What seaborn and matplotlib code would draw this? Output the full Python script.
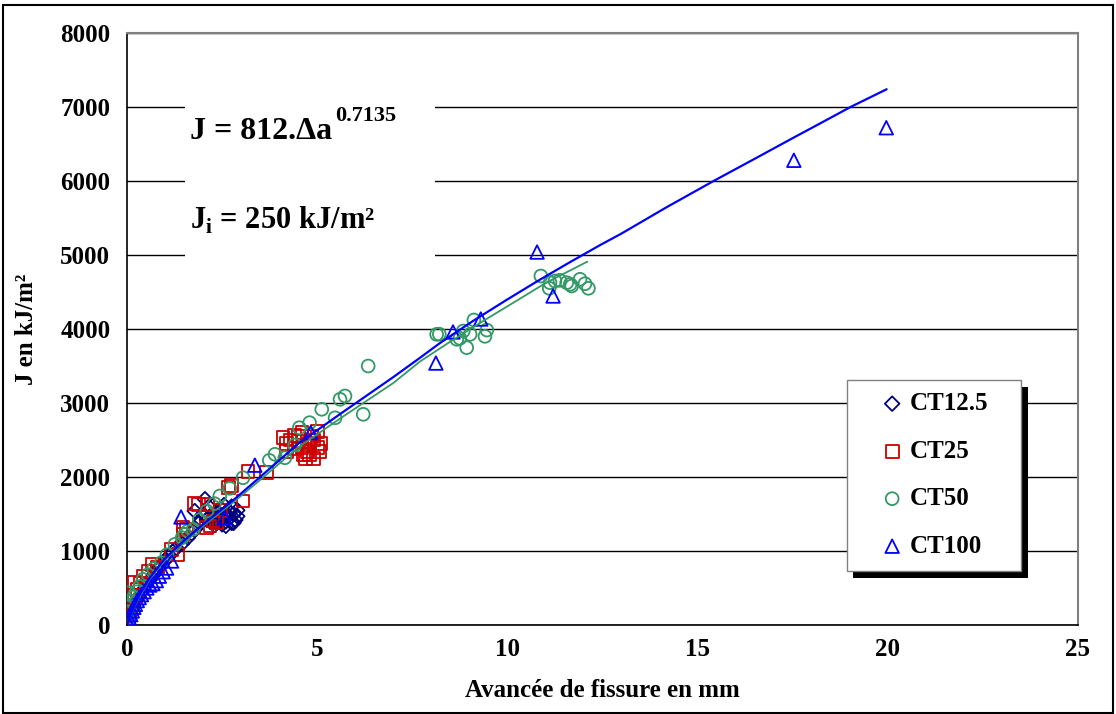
import matplotlib
matplotlib.use("Agg")
import matplotlib.pyplot as plt
from matplotlib.patches import Rectangle
import seaborn as sns
import numpy as np
import pandas as pd

# Crack extension (mm) and J (kJ/m2), one pair of lists per specimen size
ct125_da = [0.05, 0.1, 0.15, 0.2, 0.3, 0.4, 0.5, 0.6, 0.7, 0.8, 0.9, 1.0, 1.1, 1.2, 1.3,
            1.45, 1.6, 1.7, 1.8, 1.9, 1.78, 2.05, 2.0, 2.1, 2.2, 2.3, 2.35, 2.4, 2.45, 2.5,
            2.55, 2.6, 2.65, 2.7, 2.75, 2.8, 2.85, 2.9, 2.5, 2.6, 2.75, 2.4, 2.2, 2.3, 2.7,
            2.9, 2.6, 2.15, 2.45, 2.8, 2.55, 2.35]
ct125_j = [80, 150, 230, 290, 380, 460, 540, 610, 680, 750, 800, 870, 930, 990, 1040,
           1100, 1180, 1240, 1300, 1380, 1540, 1700, 1500, 1420, 1390, 1450, 1380, 1520, 1420, 1360,
           1480, 1400, 1550, 1450, 1380, 1500, 1420, 1470, 1560, 1340, 1600, 1460, 1480, 1350, 1520,
           1550, 1450, 1600, 1400, 1380, 1620, 1530]

ct25_da = [0.01, 0.02, 0.03, 0.05, 0.07, 0.1, 0.14, 0.2, 0.2, 0.28, 0.35, 0.42, 0.55, 0.68,
           0.8, 1.17, 1.34, 1.47, 1.47, 1.56, 1.78, 1.87, 2.09, 2.13, 2.18, 2.26, 2.35, 2.45,
           2.66, 2.75, 3.05, 3.18, 3.67,
           4.1, 4.2, 4.3, 4.4, 4.5, 4.6, 4.65, 4.7, 4.75, 4.8, 4.85, 4.9, 5.0, 5.05, 5.1,
           5.0, 4.6, 4.4, 4.2, 4.8, 4.9, 4.5]
ct25_j = [20, 60, 110, 160, 200, 250, 320, 400, 570, 480, 560, 662, 720, 820,
          780, 1023, 955, 1225, 1315, 1290, 1640, 1630, 1315, 1630, 1338, 1405, 1382, 1550,
          1855, 1880, 1675, 2070, 2058,
          2530, 2450, 2500, 2560, 2480, 2400, 2300, 2250, 2350, 2450, 2550, 2500, 2400, 2350, 2450,
          2620, 2600, 2380, 2350, 2300, 2250, 2550]

ct50_da = [0.01, 0.02, 0.03, 0.05, 0.08, 0.12, 0.18, 0.25, 0.33, 0.42, 0.55, 0.7, 0.9,
           1.05, 1.26, 1.45, 1.52, 1.6, 1.74, 1.9, 2.1, 2.3, 2.44, 2.7, 3.05, 3.74, 3.89,
           4.15, 4.41, 4.53, 4.8, 5.12, 5.47, 5.6, 5.73, 6.21, 6.34,
           8.14, 8.21, 8.67, 8.75, 8.84, 8.93, 9.02, 9.12, 9.41, 9.46,
           10.88, 11.1, 11.12, 11.25, 11.38, 11.56, 11.65, 11.69, 11.91, 12.04, 12.13]
ct50_j = [30, 90, 436, 180, 250, 320, 380, 450, 520, 617, 680, 760, 842,
          950, 1090, 1180, 1225, 1270, 1293, 1420, 1540, 1640, 1743, 1847, 1990, 2225, 2307,
          2260, 2432, 2666, 2734, 2915, 2800, 3050, 3095, 2847, 3500,
          3928, 3930, 3861, 3874, 3973, 3748, 3928, 4122, 3901, 3986,
          4716, 4550, 4626, 4649, 4658, 4626, 4604, 4581, 4672, 4612, 4550]

ct100_da = [0.03, 0.06, 0.1, 0.14, 0.18, 0.22, 0.27, 0.32, 0.38, 0.45, 0.52, 0.6, 0.68,
            0.77, 0.85, 0.95, 1.04, 1.17, 1.42, 2.57, 3.36, 4.83, 8.12, 8.57, 9.3, 10.78,
            11.2, 17.53, 19.96]
ct100_j = [40, 90, 140, 190, 240, 280, 330, 370, 410, 450, 500, 540, 560,
           600, 660, 720, 770, 865, 1460, 1450, 2160, 2600, 3540, 3960, 4135, 5040,
           4446, 6280, 6720]

# fitted curves (blue: all specimens, green: CT50)
fit_all_da = [0.0, 0.1, 0.3, 0.6, 1.0, 1.5, 2.0, 2.8, 3.5, 4.5, 5.6, 7.0, 7.7, 8.2, 9.1,
              10.0, 10.8, 11.6, 12.44, 13.0, 14.2, 15.42, 16.5, 17.52, 18.3, 19.02, 19.97]
fit_all_j = [0, 150, 380, 640, 900, 1140, 1360, 1690, 2000, 2450, 2850, 3350, 3610, 3800, 4110,
             4400, 4650, 4890, 5135, 5290, 5650, 6000, 6300, 6585, 6800, 7000, 7240]
fit_50_da = [0.0, 0.1, 0.3, 0.6, 1.0, 1.5, 2.0, 2.8, 3.5, 4.5, 5.6, 7.0, 7.7, 8.5, 9.4,
             10.3, 11.0, 12.1]
fit_50_j = [0, 140, 360, 620, 880, 1120, 1340, 1660, 1960, 2400, 2790, 3270, 3560, 3830, 4120,
            4400, 4620, 4910]

x_ticks = [0, 5, 10, 15, 20, 25]
y_ticks = [0, 1000, 2000, 3000, 4000, 5000, 6000, 7000, 8000]

sns.set_theme(style="white")
plt.rcParams["font.family"] = ["Liberation Serif", "DejaVu Serif"]
plt.rcParams["font.weight"] = "bold"
plt.rcParams["text.color"] = "black"
plt.rcParams["mathtext.fontset"] = "custom"
plt.rcParams["mathtext.bf"] = "Liberation Serif:bold"
plt.rcParams["mathtext.rm"] = "Liberation Serif:bold"

fig = plt.figure(figsize=(11.16, 7.14), dpi=100)
fig.patch.set_facecolor("white")
ax = fig.add_axes([127 / 1116, 1 - 625 / 714, 951 / 1116, 592 / 714])

series = [
    ("CT12.5", ct125_da, ct125_j, "D", "#000080", 55),
    ("CT25", ct25_da, ct25_j, "s", "#CC0000", 85),
    ("CT50", ct50_da, ct50_j, "o", "#339966", 85),
    ("CT100", ct100_da, ct100_j, "^", "#0000FF", 95),
]
for name, xs, ys, mk, col, size in series:
    sns.scatterplot(x=xs, y=ys, ax=ax, marker=mk, s=size, facecolor="none",
                    edgecolor=col, color=col, linewidth=1.3, label=name,
                    legend=False, zorder=3)

sns.lineplot(x=fit_50_da, y=fit_50_j, ax=ax, color="#339966", linewidth=1.3,
             sort=False, estimator=None, zorder=4)
sns.lineplot(x=fit_all_da, y=fit_all_j, ax=ax, color="#0000FF", linewidth=1.6,
             sort=False, estimator=None, zorder=4)

ax.set_xlim(0, 25)
ax.set_ylim(0, 8000)
ax.set_xticks(x_ticks)
ax.set_yticks(y_ticks)
ax.set_axisbelow(True)
ax.yaxis.grid(True, color="black", linewidth=1)
ax.xaxis.grid(False)
ax.tick_params(axis="both", direction="out", length=6, width=1, color="black",
               labelsize=18, labelcolor="black")
ax.tick_params(axis="x", pad=3)
ax.tick_params(axis="y", pad=6)
for lab in ax.get_xticklabels() + ax.get_yticklabels():
    lab.set_fontweight("bold")

for side in ["top", "right"]:
    ax.spines[side].set_color("#808080")
    ax.spines[side].set_linewidth(1.5)
for side in ["left", "bottom"]:
    ax.spines[side].set_color("black")
    ax.spines[side].set_linewidth(1.2)

ax.set_xlabel("Avancée de fissure en mm", fontsize=18, fontweight="bold", color="black")
ax.set_ylabel("J en kJ/m²", fontsize=18, fontweight="bold", color="black")
ax.xaxis.set_label_coords(0.5, -0.092)
ax.yaxis.set_label_coords(-0.094, 0.5)

# white text box behind the fit equation
ax.add_patch(Rectangle((0.0607, 0.611), 0.263, 0.308, transform=ax.transAxes,
                       facecolor="white", edgecolor="none", zorder=2))
ax.text(0.066, 0.821, "J = 812.Δa", transform=ax.transAxes, color="black",
        fontsize=23, fontweight="bold", va="baseline", ha="left", zorder=3)
ax.text(0.2184, 0.851, "0.7135", transform=ax.transAxes, color="black",
        fontsize=16, fontweight="bold", va="baseline", ha="left", zorder=3)
ax.text(0.066, 0.669, "J$_{\\mathbf{i}}$ = 250 kJ/m²", transform=ax.transAxes,
        color="black", fontsize=22, fontweight="bold", va="baseline", ha="left",
        zorder=3)

# legend box with drop shadow
ax.add_patch(Rectangle((0.757 + 0.0065, 0.0912 - 0.012), 0.1835, 0.3227,
                       transform=ax.transAxes, facecolor="black", edgecolor="none",
                       zorder=4.5, clip_on=False))
ax.add_patch(Rectangle((0.757, 0.0912), 0.1835, 0.3227, transform=ax.transAxes,
                       facecolor="white", edgecolor="#808080", linewidth=1,
                       zorder=4.6, clip_on=False))
handles = ax.collections[:4]
leg = ax.legend(handles, [s[0] for s in series], loc="center",
                bbox_to_anchor=(0.8498, 0.2534), frameon=False,
                prop={"family": "Liberation Serif", "weight": "bold", "size": 18},
                labelcolor="black", handlelength=0.8, handletextpad=0.3,
                labelspacing=0.98, borderpad=0, scatterpoints=1)
leg.set_zorder(5)

# outer chart border
fig.add_artist(Rectangle((3 / 1116, 1.5 / 714), 1110 / 1116, 707.5 / 714,
                         transform=fig.transFigure, fill=False, edgecolor="black",
                         linewidth=1.5))

fig.savefig("out.png", dpi=100)
